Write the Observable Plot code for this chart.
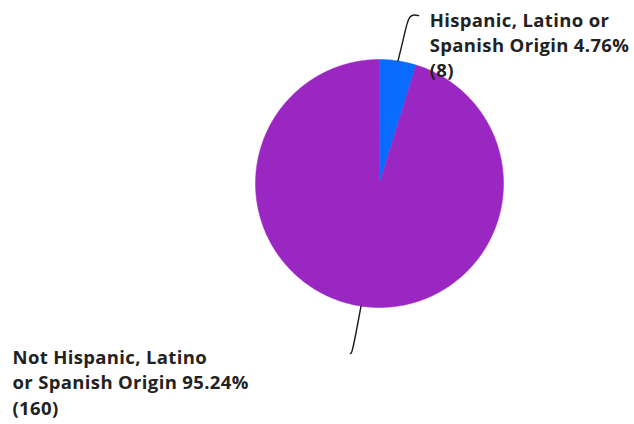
<!DOCTYPE html>
<html>
<head>
<meta charset="utf-8">
<script src="https://cdn.jsdelivr.net/npm/d3@7"></script>
<script src="https://cdn.jsdelivr.net/npm/@observablehq/plot@0.6"></script>
<style>
  html, body { margin: 0; padding: 0; background: #ffffff; }
  #chart svg { display: block; }
  #chart text { letter-spacing: 0.35px; }
</style>
</head>
<body>
<div id="chart"></div>
<script>
// ---- data ----
const categories = ["Hispanic, Latino or Spanish Origin", "Not Hispanic, Latino or Spanish Origin"];
const counts = [8, 160];
const percents = ["4.76%", "95.24%"];
const labelLines = [
  ["Hispanic, Latino or", "Spanish Origin 4.76%", "(8)"],
  ["Not Hispanic, Latino", "or Spanish Origin 95.24%", "(160)"]
];
const colors = ["#0a6bff", "#9b27c3"];

// ---- layout ----
const W = 634, H = 424;
const cx = 379, cy = 183, R = 124;

const arcs = d3.pie().sort(null).value(d => d)(counts);

// slice polygons in unit-circle coordinates (angle 0 = top, clockwise)
const slices = arcs.map((a, i) => {
  const n = Math.max(4, Math.ceil((a.endAngle - a.startAngle) / 0.01));
  const pts = [{x: 0, y: 0}];
  for (let k = 0; k <= n; k++) {
    const t = a.startAngle + (a.endAngle - a.startAngle) * k / n;
    pts.push({x: Math.sin(t), y: Math.cos(t)});
  }
  pts.push({x: 0, y: 0});
  return pts.map(p => ({...p, cat: categories[i]}));
});

// leader lines along each slice mid-angle
const leaders = arcs.map((a, i) => {
  const m = (a.startAngle + a.endAngle) / 2;
  const tilt = i === 0 ? 0.05 : 0.02;
  const pts = [
    {r: 1.0, t: m},
    {r: 1.2, t: m + tilt * 0.3},
    {r: 1.36, t: m + tilt * 0.6},
    {r: 1.39, t: m + tilt * (i === 0 ? 1.6 : 1.0)}
  ];
  return pts.map(p => ({x: p.r * Math.sin(p.t), y: p.r * Math.cos(p.t), cat: categories[i]}));
});
const ends = leaders.map(l => l[l.length - 1]);

const marks = [];
slices.forEach((s, i) => {
  marks.push(Plot.line(s, {x: "x", y: "y", fill: colors[i], stroke: colors[i], strokeWidth: 0.5, curve: "linear"}));
});
leaders.forEach(l => {
  marks.push(Plot.line(l, {x: "x", y: "y", stroke: "#1a1a1a", strokeWidth: 1.4, curve: "natural"}));
});
// top label, to the right of its leader end
marks.push(Plot.text([ends[0]], {
  x: "x", y: "y", text: () => labelLines[0].join("\n"),
  textAnchor: "start", lineAnchor: "top", dx: 11, dy: -6,
  fontSize: 18.5, fontWeight: 700, fill: "#222", lineHeight: 1.35,
  fontFamily: "'Open Sans', sans-serif"
}));
// bottom label, at the left edge, level with its leader end
marks.push(Plot.text([ends[1]], {
  y: "y", frameAnchor: "left", text: () => labelLines[1].join("\n"),
  textAnchor: "start", lineAnchor: "top", dx: 12, dy: -7,
  fontSize: 18.5, fontWeight: 700, fill: "#222", lineHeight: 1.36,
  fontFamily: "'Open Sans', sans-serif"
}));

const chart = Plot.plot({
  width: W, height: H,
  margin: 0,
  x: {domain: [-cx / R, (W - cx) / R], range: [0, W], axis: null},
  y: {domain: [-(H - cy) / R, cy / R], range: [H, 0], axis: null},
  style: {background: "#ffffff", overflow: "visible"},
  marks
});
document.getElementById("chart").appendChild(chart);
</script>
</body>
</html>
